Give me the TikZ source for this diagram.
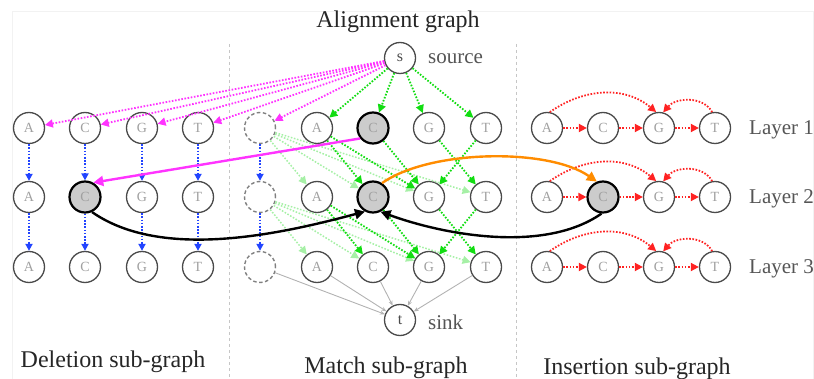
\documentclass[tikz,border=0pt]{standalone}
\usepackage{fontspec}
\setmainfont{Liberation Serif}
\usetikzlibrary{arrows.meta}
\definecolor{nodegray}{HTML}{4A4A4A}
\definecolor{lettergray}{HTML}{A0A0A0}
\definecolor{labgray}{HTML}{555555}
\definecolor{mag}{HTML}{FF33FF}
\definecolor{grn}{HTML}{11DD11}
\definecolor{lgrn}{HTML}{A6F0A6}
\definecolor{blu}{HTML}{2244FF}
\definecolor{rd}{HTML}{FF2222}
\definecolor{org}{HTML}{FF8C00}
\definecolor{hlfill}{HTML}{CCCCCC}
\begin{document}
\begin{tikzpicture}[x=1pt,y=-1pt,
  nd/.style={circle, draw=nodegray, line width=1.3pt, fill=white, minimum size=31pt, inner sep=0pt, text=lettergray, font=\fontsize{14}{14}\selectfont},
  hl/.style={nd, fill=hlfill, draw=black, line width=2.2pt},
  dnd/.style={nd, draw=gray, line width=1.4pt, dash pattern=on 3.5pt off 2.5pt},
  tip/.style={-{Triangle[length=8pt,width=8pt]}},
  dotln/.style={tip, line width=1.8pt, dash pattern=on 1.6pt off 1.6pt},
  magarr/.style={dotln, draw=mag},
  grnarr/.style={dotln, draw=grn},
  lgarr/.style={dotln, line width=1.5pt, draw=lgrn},
  bluarr/.style={dotln, draw=blu, -{Triangle[length=7pt,width=7pt]}},
  redarr/.style={dotln, draw=rd},
  sinkarr/.style={draw=gray!60, line width=0.9pt, -{Stealth[length=5pt,width=4pt]}},
  patharr/.style={line width=2.4pt, -{Triangle[length=10pt,width=10pt]}},
  lab/.style={font=\fontsize{21}{21}\selectfont, text=labgray, inner sep=0pt},
  ttl/.style={font=\fontsize{24}{24}\selectfont, text=black!85, inner sep=0pt},
  sep/.style={draw=gray!45, line width=1pt, dash pattern=on 3pt off 3pt}
]
\useasboundingbox (0,0) rectangle (814,379);
\draw[black!5, line width=0.8pt] (12,11) rectangle (813,379);

% separators
\coordinate (s1t) at (229,44); \coordinate (s1b) at (229,379);
\coordinate (s2t) at (516,44); \coordinate (s2b) at (516,379);
\draw[sep] (s1t) -- (s1b);
\draw[sep] (s2t) -- (s2b);

% titles
\node[ttl, anchor=base] (title) at (398,28) {Alignment graph};
\node[ttl, anchor=base] (tdel) at (113,367) {Deletion sub-graph};
\node[ttl, anchor=base] (tmat) at (386,373) {Match sub-graph};
\node[ttl, anchor=base] (tins) at (637,374) {Insertion sub-graph};

% source / sink
\node[nd, text=nodegray, font=\fontsize{16}{16}\selectfont] (s) at (400,58) {s};
\node[lab, anchor=base west] (srclab) at (428,64) {source};
\node[nd, text=nodegray, font=\fontsize{16}{16}\selectfont] (t) at (400,320) {t};
\node[lab, anchor=base west] (sinklab) at (428,330) {sink};

% layer labels
\node[lab, anchor=base west] (L1) at (749,135) {Layer 1};
\node[lab, anchor=base west] (L2) at (749,204) {Layer 2};
\node[lab, anchor=base west] (L3) at (749,274) {Layer 3};

% deletion nodes
\node[nd] (d1A) at (29,128) {A};
\node[nd] (d1C) at (85,128) {C};
\node[nd] (d1G) at (142,128) {G};
\node[nd] (d1T) at (198,128) {T};
\node[nd] (d2A) at (29,197) {A};
\node[hl] (d2C) at (85,197) {C};
\node[nd] (d2G) at (142,197) {G};
\node[nd] (d2T) at (198,197) {T};
\node[nd] (d3A) at (29,267) {A};
\node[nd] (d3C) at (85,267) {C};
\node[nd] (d3G) at (142,267) {G};
\node[nd] (d3T) at (198,267) {T};

% match nodes
\node[dnd] (m1X) at (260,128) {};
\node[nd] (m1A) at (317,128) {A};
\node[hl] (m1C) at (373,128) {C};
\node[nd] (m1G) at (429,128) {G};
\node[nd] (m1T) at (486,128) {T};
\node[dnd] (m2X) at (260,197) {};
\node[nd] (m2A) at (317,197) {A};
\node[hl] (m2C) at (373,197) {C};
\node[nd] (m2G) at (429,197) {G};
\node[nd] (m2T) at (486,197) {T};
\node[dnd] (m3X) at (260,267) {};
\node[nd] (m3A) at (317,267) {A};
\node[nd] (m3C) at (373,267) {C};
\node[nd] (m3G) at (429,267) {G};
\node[nd] (m3T) at (486,267) {T};

% insertion nodes
\node[nd] (i1A) at (547,128) {A};
\node[nd] (i1C) at (603,128) {C};
\node[nd] (i1G) at (659,128) {G};
\node[nd] (i1T) at (715,128) {T};
\node[nd] (i2A) at (547,197) {A};
\node[hl] (i2C) at (603,197) {C};
\node[nd] (i2G) at (659,197) {G};
\node[nd] (i2T) at (715,197) {T};
\node[nd] (i3A) at (547,267) {A};
\node[nd] (i3C) at (603,267) {C};
\node[nd] (i3G) at (659,267) {G};
\node[nd] (i3T) at (715,267) {T};

% source edges
\foreach \n in {d1A,d1C,d1G,d1T,m1X} \draw[magarr] (s) -- (\n);
\foreach \n in {m1A,m1C,m1G,m1T} \draw[grnarr] (s) -- (\n);

% layer transitions
\foreach \r/\q in {1/2,2/3} {
  \foreach \c in {A,C,G,T} \draw[bluarr] (d\r\c) -- (d\q\c);
  \draw[bluarr] (m\r X) -- (m\q X);
  \foreach \c in {A,C,G,T} \draw[lgarr] (m\r X) -- (m\q\c);
  \draw[grnarr] (m\r A) -- (m\q C);
  \draw[grnarr] (m\r A) -- (m\q G);
  \draw[grnarr] (m\r C) -- (m\q G);
  \draw[grnarr] (m\r G) -- (m\q T);
  \draw[grnarr] (m\r T) -- (m\q G);
}

% sink edges
\foreach \n in {m3X,m3A,m3C,m3G,m3T} \draw[sinkarr] (\n) -- (t);

% insertion edges
\foreach \r in {1,2,3} {
  \draw[redarr] (i\r A) -- (i\r C);
  \draw[redarr] (i\r C) -- (i\r G);
  \draw[redarr] (i\r G) -- (i\r T);
  \draw[redarr] (i\r A.80) to[out=35,in=140] (i\r G.100);
  \draw[redarr] (i\r T.100) to[out=120,in=50] (i\r G.75);
}

% highlighted path
\draw[patharr, draw=mag] (m1C.219) -- (d2C.60);
\draw[patharr, draw=black] (d2C.295) to[out=-35,in=195,looseness=0.8] (m2C.241);
\draw[patharr, draw=org] (m2C.57) to[out=35,in=145,looseness=0.7] (i2C.112);
\draw[patharr, draw=black] (i2C.265) to[out=215,in=-20,looseness=0.8] (m2C.297);
\end{tikzpicture}
\end{document}
